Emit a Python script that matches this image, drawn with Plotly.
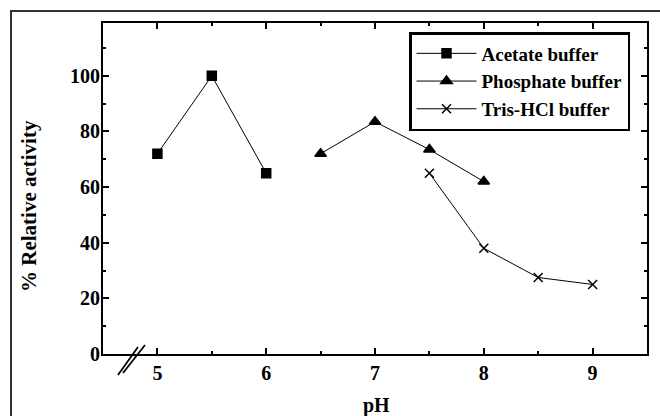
import plotly.graph_objects as go

# pH activity profile of the enzyme in three buffer systems
acetate_ph = [5.0, 5.5, 6.0]
acetate_act = [72, 100, 65]

phosphate_ph = [6.5, 7.0, 7.5, 8.0]
phosphate_act = [72, 83.5, 73.5, 62]

tris_ph = [7.5, 8.0, 8.5, 9.0]
tris_act = [65, 38, 27.5, 25]

x_ticks = [5, 6, 7, 8, 9]
y_ticks = [0, 20, 40, 60, 80, 100]

FONT = "Liberation Serif, Times New Roman, serif"
W, H = 660, 416
L, R, T, B = 103, 13, 23, 62
PW, PH = W - L - R, H - T - B


def px_to_paper(px, py):
    return (px - L) / PW, (H - B - py) / PH


fig = go.Figure()

series = [
    ("Acetate buffer", acetate_ph, acetate_act, "square", 9),
    ("Phosphate buffer", phosphate_ph, phosphate_act, "triangle-up", 10),
    ("Tris-HCl buffer", tris_ph, tris_act, "x-thin", 9),
]
for name, xs, ys, sym, size in series:
    fig.add_trace(go.Scatter(
        x=xs, y=ys, name=name, mode="lines+markers",
        legendgroup=name,
        line=dict(color="black", width=1),
        marker=dict(symbol=sym, size=size, color="black",
                    line=dict(color="black", width=1.5)),
    ))

tick_font = dict(family=FONT, size=20, color="black", weight="bold")


def axis_style(standoff):
    return dict(
        showline=True, linecolor="black", linewidth=2, mirror="ticks",
        ticks="inside", ticklen=6, tickwidth=1.5, tickcolor="black",
        showgrid=False, zeroline=False, automargin=False,
        tickfont=tick_font, ticklabelstandoff=standoff,
    )


fig.update_xaxes(
    range=[4.5, 9.5], tickvals=x_ticks,
    minor=dict(ticks="inside", ticklen=3, tickcolor="black", dtick=0.5, tick0=4.5),
    **axis_style(0),
)
fig.update_yaxes(
    range=[0, 119], tickvals=y_ticks,
    minor=dict(ticks="inside", ticklen=3, tickcolor="black", dtick=10, tick0=0),
    **axis_style(-3),
)

# axis titles
title_font = dict(family=FONT, size=20, color="black", weight="bold")
px_, py_ = px_to_paper(376, 405)
annotations = [
    dict(text="pH", xref="paper", yref="paper", x=px_, y=py_,
         xanchor="center", yanchor="middle", showarrow=False, font=title_font),
]
tx, ty = px_to_paper(29, 206)
annotations.append(
    dict(text="% Relative activity", xref="paper", yref="paper", x=tx, y=ty,
         xanchor="center", yanchor="middle", showarrow=False, textangle=-90,
         font=dict(family=FONT, size=21, color="black", weight="bold")))

# axis break marks on the pH axis
shapes = []
for (ax0, ay0, ax1, ay1) in [(118, 375, 138, 347), (123, 373, 145, 345)]:
    x0, y0 = px_to_paper(ax0, ay0)
    x1, y1 = px_to_paper(ax1, ay1)
    shapes.append(dict(type="line", xref="paper", yref="paper",
                       x0=x0, y0=y0, x1=x1, y1=y1,
                       line=dict(color="black", width=1.8)))

# outer figure frame
fx0, fy1 = px_to_paper(11, 11)
shapes.append(dict(type="rect", xref="paper", yref="paper",
                   x0=fx0, y0=-0.5, x1=1.2, y1=fy1,
                   line=dict(color="#333333", width=2)))

lx, ly = px_to_paper(409, 32)
fig.update_layout(
    width=W, height=H,
    margin=dict(l=L, r=R, t=T, b=B, autoexpand=False),
    paper_bgcolor="white", plot_bgcolor="white",
    shapes=shapes, annotations=annotations,
    showlegend=True,
    legend=dict(
        x=lx, y=ly, xanchor="left", yanchor="top",
        bordercolor="black", borderwidth=2.5, bgcolor="white",
        font=dict(family=FONT, size=19, color="black", weight="bold"),
        traceorder="grouped", tracegroupgap=0,
        itemwidth=60,
    ),
)

fig.write_html("out.html")
